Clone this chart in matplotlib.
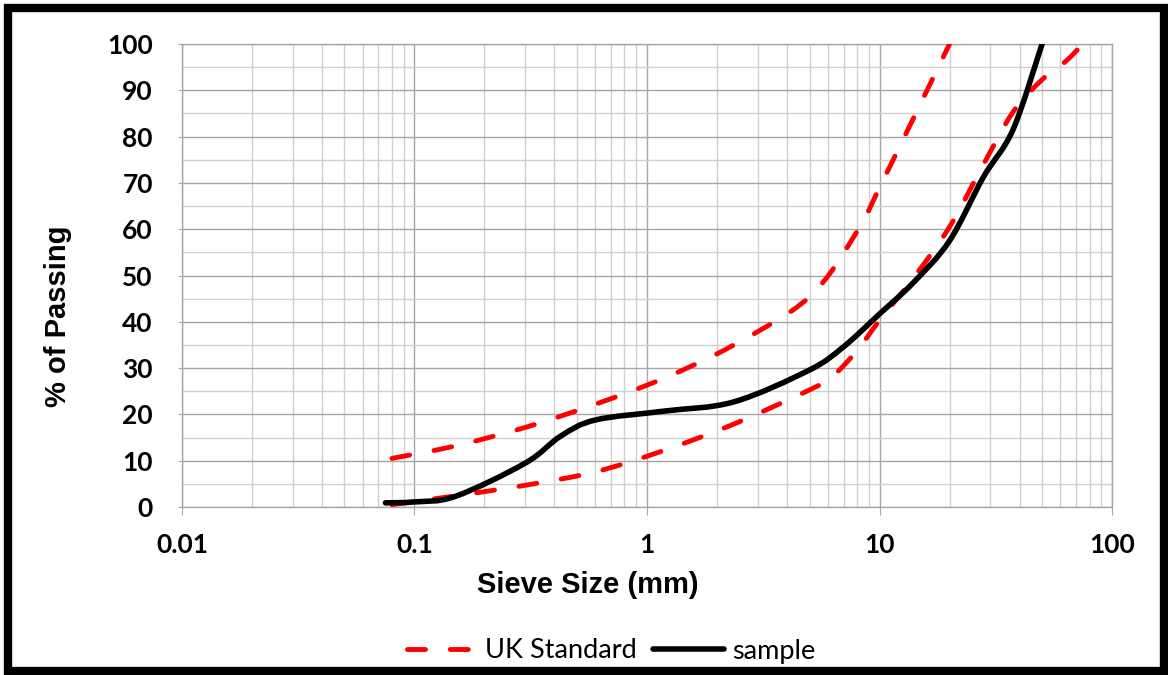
import numpy as np
import matplotlib
matplotlib.use("Agg")
import matplotlib.pyplot as plt
from matplotlib.path import Path
from matplotlib.patches import PathPatch, Rectangle
from matplotlib.lines import Line2D
from matplotlib.ticker import LogLocator, FixedLocator, FuncFormatter

# ---- data ----
uk_upper_size = [0.08, 0.15, 0.3, 0.6, 1.18, 2.36, 5, 8, 10, 14, 20]
uk_upper_pass = [10.5, 13.2, 17.2, 22.2, 27.8, 35.0, 45.4, 59.5, 69.0, 84.0, 100]

uk_lower_size = [0.08, 0.15, 0.3, 0.6, 1.18, 2.36, 5, 6.3, 8, 10, 14, 20, 28, 37.5, 50, 63, 75]
uk_lower_pass = [0.5, 2.4, 4.7, 7.6, 12.2, 17.9, 25.3, 28.3, 33.8, 40.3, 49.5, 60.5, 74.0, 85.3, 92.3, 96.2, 100]

sample_size = [0.075, 0.1, 0.15, 0.3, 0.425, 0.6, 1.18, 2.36, 5, 7, 10, 14, 20, 28, 37.5, 50]
sample_pass = [0.9, 1.1, 2.3, 9.5, 15.3, 18.8, 20.7, 22.7, 29.6, 34.6, 41.7, 48.5, 57.5, 71.3, 81.5, 100]

xticks = [0.01, 0.1, 1, 10, 100]
yticks = list(range(0, 101, 10))

RED = "#ff0000"


def smooth_path(xs, ys, tension=1 / 6):
    """Catmull-Rom through the points (log x), as cubic Bezier segments."""
    lx = np.log10(xs)
    ys = np.asarray(ys, float)
    n = len(lx)
    verts = [(xs[0], ys[0])]
    codes = [Path.MOVETO]
    for i in range(n - 1):
        p0 = (lx[max(i - 1, 0)], ys[max(i - 1, 0)])
        p1 = (lx[i], ys[i])
        p2 = (lx[i + 1], ys[i + 1])
        p3 = (lx[min(i + 2, n - 1)], ys[min(i + 2, n - 1)])
        c1 = (p1[0] + (p2[0] - p0[0]) * tension, p1[1] + (p2[1] - p0[1]) * tension)
        c2 = (p2[0] - (p3[0] - p1[0]) * tension, p2[1] - (p3[1] - p1[1]) * tension)
        for c in (c1, c2, p2):
            verts.append((10 ** c[0], c[1]))
        codes += [Path.CURVE4] * 3
    return Path(verts, codes)


plt.rcParams["font.family"] = ["Lato", "DejaVu Sans"]

fig = plt.figure(figsize=(11.68, 6.75), dpi=100)
ax = fig.add_axes([0.1558, 0.2489, 0.7963, 0.6859])

red_lw, black_lw = 3.5, 4.0
dash = (0, (3.7, 5.1))
for xs, ys in [(uk_upper_size, uk_upper_pass), (uk_lower_size, uk_lower_pass)]:
    ax.add_patch(PathPatch(smooth_path(xs, ys), fill=False, edgecolor=RED,
                           lw=red_lw, linestyle=dash, capstyle="round", zorder=3))
ax.add_patch(PathPatch(smooth_path(sample_size, sample_pass), fill=False,
                       edgecolor="black", lw=black_lw, capstyle="round", zorder=4))

ax.set_xscale("log")
ax.set_xlim(0.01, 100)
ax.set_ylim(0, 100)
ax.xaxis.set_major_locator(FixedLocator(xticks))
ax.xaxis.set_minor_locator(LogLocator(base=10, subs=np.arange(2, 10), numticks=20))
ax.xaxis.set_major_formatter(FuncFormatter(lambda v, p: f"{v:g}"))
ax.set_yticks(yticks)
ax.yaxis.set_minor_locator(FixedLocator(list(range(5, 100, 10))))

ax.grid(which="major", color="#a6a6a6", lw=1.0)
ax.grid(which="minor", color="#d0d0d0", lw=1.0)
ax.set_axisbelow(True)
for s in ax.spines.values():
    s.set_color("#a6a6a6")
    s.set_linewidth(1.0)

ax.tick_params(axis="x", which="major", length=6, color="#a6a6a6", pad=13, labelsize=19)
ax.tick_params(axis="x", which="minor", length=0)
ax.tick_params(axis="y", which="major", length=3, color="#a6a6a6", pad=18, labelsize=19)
ax.tick_params(axis="y", which="minor", length=0)
for lab in ax.get_xticklabels() + ax.get_yticklabels():
    lab.set_fontweight("bold")

# axis titles sit where Excel put them (not centred on the plot area)
fig.text(588 / 1168, 1 - 585 / 675, "Sieve Size (mm)", ha="center", va="center",
         fontsize=21, fontweight="bold", family="Liberation Sans")
fig.text(58 / 1168, 1 - 316 / 675, "% of Passing", ha="center", va="center",
         rotation=90, fontsize=21, fontweight="bold", family="Liberation Sans")

handles = [Line2D([], [], color=RED, lw=red_lw, linestyle=dash, dash_capstyle="round"),
           Line2D([], [], color="black", lw=black_lw, solid_capstyle="round")]
fig.legend(handles, ["UK Standard", "sample"], loc="center", bbox_to_anchor=(611 / 1168, 1 - 651 / 675),
           ncol=2, frameon=False, fontsize=19.5, handlelength=2.6, columnspacing=0.6,
           handletextpad=0.3, borderpad=0, borderaxespad=0)

fig.add_artist(Rectangle((8 / 1168, 4 / 675), 1156 / 1168, 663 / 675, transform=fig.transFigure,
                         fill=False, edgecolor="black", lw=6))

fig.savefig("out.png", dpi=100)
